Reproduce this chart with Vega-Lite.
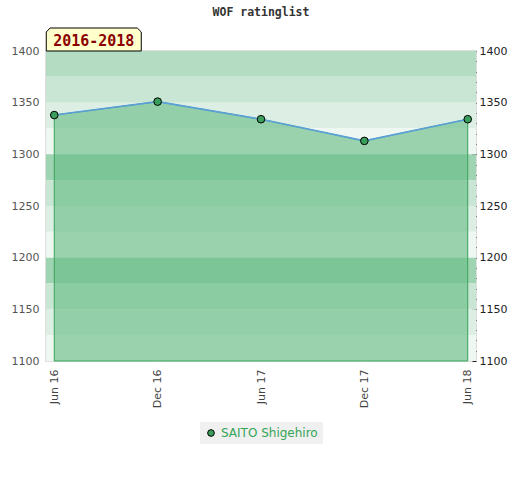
{
  "$schema": "https://vega.github.io/schema/vega-lite/v6.json",
  "width": 430,
  "height": 310,
  "padding": {"left": 11, "top": 6, "right": 5, "bottom": 5},
  "title": {"text": "WOF ratinglist", "font": "DejaVu Sans Mono", "fontSize": 11.5, "fontWeight": "bold", "color": "#333333", "offset": 8},
  "datasets": {
    "bands": [
      {"lo": 1375, "hi": 1400, "shade": "s1"},
      {"lo": 1350, "hi": 1375, "shade": "s2"},
      {"lo": 1325, "hi": 1350, "shade": "s3"},
      {"lo": 1300, "hi": 1325, "shade": "s4"},
      {"lo": 1275, "hi": 1300, "shade": "s0"},
      {"lo": 1250, "hi": 1275, "shade": "s2"},
      {"lo": 1225, "hi": 1250, "shade": "s3"},
      {"lo": 1200, "hi": 1225, "shade": "s4"},
      {"lo": 1175, "hi": 1200, "shade": "s0"},
      {"lo": 1150, "hi": 1175, "shade": "s2"},
      {"lo": 1125, "hi": 1150, "shade": "s3"},
      {"lo": 1100, "hi": 1125, "shade": "s4"}
    ],
    "ratings": [
      {"month": "Jun 16", "rating": 1338, "player": "SAITO Shigehiro"},
      {"month": "Dec 16", "rating": 1351, "player": "SAITO Shigehiro"},
      {"month": "Jun 17", "rating": 1334, "player": "SAITO Shigehiro"},
      {"month": "Dec 17", "rating": 1313, "player": "SAITO Shigehiro"},
      {"month": "Jun 18", "rating": 1334, "player": "SAITO Shigehiro"}
    ],
    "period": [{"label": "2016-2018"}]
  },
  "resolve": {"axis": {"y": "independent"}},
  "layer": [
    {
      "data": {"name": "bands"},
      "mark": {"type": "rect"},
      "encoding": {
        "y": {"field": "lo", "type": "quantitative",
          "scale": {"domain": [1100, 1400], "nice": false, "zero": false},
          "axis": {"orient": "left", "title": null, "ticks": false, "domain": false, "grid": false, "format": "d",
            "tickCount": 6, "labelColor": "#555555", "labelFont": "DejaVu Sans", "labelFontSize": 11, "labelPadding": 7}},
        "y2": {"field": "hi"},
        "color": {"field": "shade", "type": "nominal", "legend": null,
          "scale": {"domain": ["s0", "s1", "s2", "s3", "s4"], "range": ["#9fd4b2", "#b3dcc2", "#c8e6d3", "#ddefe4", "#eef7f1"]}}
      }
    },
    {
      "data": {"name": "ratings"},
      "mark": {"type": "area", "fill": "#66bb85", "fillOpacity": 0.62, "stroke": "#3aa55a", "strokeWidth": 1},
      "encoding": {
        "x": {"field": "month", "type": "nominal",
          "scale": {"type": "point", "domain": ["Jun 16", "Dec 16", "Jun 17", "Dec 17", "Jun 18"], "padding": 0.08},
          "axis": {"title": null, "labelAngle": -90, "ticks": false, "domain": false, "labelColor": "#444444",
            "labelFont": "DejaVu Sans", "labelFontSize": 11, "labelPadding": 8}},
        "y": {"field": "rating", "type": "quantitative",
          "axis": {"orient": "right", "title": null, "domain": false, "grid": false, "tickCount": 30, "format": "d",
            "tickColor": "#222222", "tickWidth": 1, "tickSize": -4,
            "labelExpr": "datum.value % 50 === 0 ? datum.label : ''", "labelOverlap": false,
            "labelColor": "#222222", "labelFont": "DejaVu Sans", "labelFontSize": 11, "labelPadding": 7}},
        "y2": {"datum": 1100}
      }
    },
    {
      "data": {"name": "ratings"},
      "mark": {"type": "line", "stroke": "#5a9fd8", "strokeWidth": 1.6},
      "encoding": {
        "x": {"field": "month", "type": "nominal"},
        "y": {"field": "rating", "type": "quantitative", "axis": null}
      }
    },
    {
      "data": {"name": "ratings"},
      "mark": {"type": "point", "filled": true, "shape": "circle", "size": 58, "stroke": "#000000", "strokeWidth": 1, "opacity": 1},
      "encoding": {
        "x": {"field": "month", "type": "nominal"},
        "y": {"field": "rating", "type": "quantitative", "axis": null},
        "fill": {"field": "player", "type": "nominal",
          "scale": {"range": ["#3a9f5d"]},
          "legend": {"title": null, "orient": "bottom", "offset": 14, "fillColor": "#f0f0f0", "padding": 5,
            "symbolType": "circle", "symbolSize": 45, "symbolStrokeColor": "#000000", "symbolStrokeWidth": 1,
            "labelColor": "#33a555", "labelFont": "DejaVu Sans", "labelFontSize": 12}}
      }
    },
    {
      "data": {"name": "period"},
      "mark": {"type": "point", "filled": true, "fill": "#ffffcc", "stroke": "#000000", "strokeWidth": 1, "opacity": 1,
        "shape": "M -1 0.242 L -1 -0.158 L -0.92 -0.242 L 0.916 -0.242 L 1 -0.158 L 1 0.242 Z",
        "size": 9025, "xOffset": 39.5, "yOffset": -11.5},
      "encoding": {
        "x": {"datum": "Jun 16", "type": "nominal"},
        "y": {"datum": 1400, "type": "quantitative", "axis": null}
      }
    },
    {
      "data": {"name": "period"},
      "mark": {"type": "text", "font": "DejaVu Sans Mono", "fontSize": 15, "fontWeight": "bold", "color": "#8b0000",
        "align": "center", "baseline": "middle", "xOffset": 39.5, "yOffset": -10.5},
      "encoding": {
        "x": {"datum": "Jun 16", "type": "nominal"},
        "y": {"datum": 1400, "type": "quantitative", "axis": null},
        "text": {"field": "label"}
      }
    }
  ],
  "config": {
    "view": {"stroke": "#d4d4d4", "strokeWidth": 1.5},
    "legend": {"layout": {"bottom": {"anchor": "middle"}}}
  }
}
